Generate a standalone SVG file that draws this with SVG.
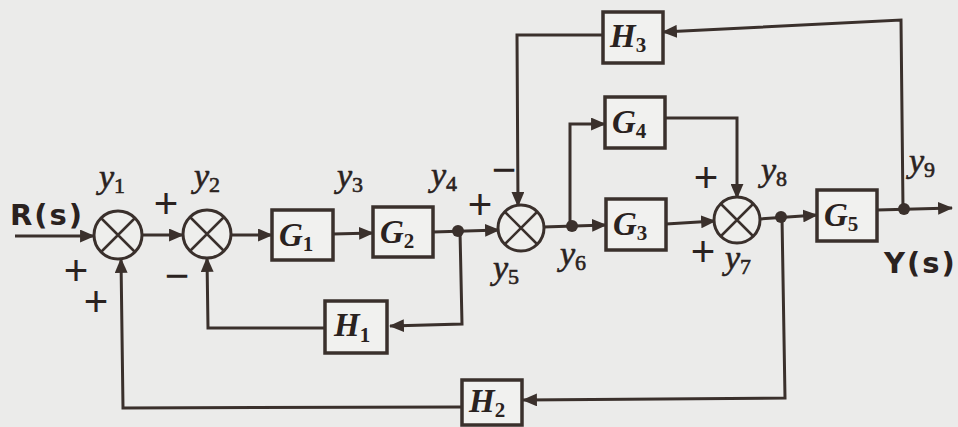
<svg xmlns="http://www.w3.org/2000/svg" width="958" height="427" viewBox="0 0 958 427">
<defs>
<marker id="ah" viewBox="0 0 14 12" refX="13" refY="6" markerWidth="15" markerHeight="13" markerUnits="userSpaceOnUse" orient="auto">
<path d="M0,0 L14,6 L0,12 Z" fill="#3a302c"/>
</marker>
</defs>
<style>
.bg{fill:#ebebea}
.box{fill:#f1f1ef;stroke:#3a302c;stroke-width:3.5}
.sum{fill:#eeeeec;stroke:#3a302c;stroke-width:3}
.x{stroke:#3a302c;stroke-width:2.5}
.w{fill:none;stroke:#3a302c;stroke-width:3;stroke-linejoin:miter}
.a{marker-end:url(#ah)}
.dot{fill:#3a302c}
.bl{font-family:"Liberation Serif",serif;font-style:italic;font-weight:bold;font-size:33px;fill:#2a2220}
.sub{font-style:normal;font-size:21px}
.v{font-family:"Liberation Serif",serif;font-style:italic;font-size:34px;fill:#2a2220;stroke:#2a2220;stroke-width:0.6}
.vs{font-style:normal;font-size:22px}
.s{font-family:"Liberation Sans",sans-serif;font-size:42px;fill:#2a2220;text-anchor:middle}
.io{font-family:"DejaVu Sans",sans-serif;font-weight:bold;font-size:29px;letter-spacing:2px;fill:#2a2220}
</style>
<rect class="bg" x="0" y="0" width="958" height="427"/>

<g id="connectors">
<path class="w a" d="M15,236 L94,236"/>
<path class="w a" d="M141,235 L183,235"/>
<path class="w a" d="M230,235 L272,235"/>
<path class="w a" d="M333,234 L373,233"/>
<path class="w a" d="M433,232 L499,230"/>
<path class="w a" d="M543,227 L606,225"/>
<path class="w a" d="M570,226 L570,124 L605,124"/>
<path class="w a" d="M665,118 L737,118 L737,198"/>
<path class="w a" d="M666,224 L715,221"/>
<path class="w a" d="M759,219 L817,215"/>
<path class="w a" d="M877,210 L952,208"/>
<path class="w a" d="M903,209 L901,20 L663,32"/>
<path class="w a" d="M603,35 L517,35 L518,206"/>
<path class="w a" d="M460,231 L462,324 L390,326"/>
<path class="w a" d="M325,328 L208,328 L207,258"/>
<path class="w a" d="M782,217 L785,398 L523,400"/>
<path class="w a" d="M462,407 L123,408 L121,259"/>
</g>

<g id="dots">
<circle class="dot" cx="458" cy="231" r="6"/>
<circle class="dot" cx="572" cy="226" r="6"/>
<circle class="dot" cx="781" cy="217" r="6"/>
<circle class="dot" cx="904" cy="209" r="6"/>
</g>

<g id="S1"><circle class="sum" cx="118" cy="235" r="24"/><path class="x" d="M101,218 L135,252 M135,218 L101,252"/></g>
<g id="S2"><circle class="sum" cx="207" cy="234" r="24"/><path class="x" d="M190,217 L224,251 M224,217 L190,251"/></g>
<g id="S5"><circle class="sum" cx="521" cy="228" r="23"/><path class="x" d="M505,212 L537,244 M537,212 L505,244"/></g>
<g id="S7"><circle class="sum" cx="737" cy="220" r="23"/><path class="x" d="M721,204 L753,236 M753,204 L721,236"/></g>

<g id="G1"><rect class="box" x="272" y="210" width="61" height="50"/><text class="bl" x="279" y="246">G<tspan class="sub" dy="5">1</tspan></text></g>
<g id="G2"><rect class="box" x="373" y="207" width="60" height="50"/><text class="bl" x="380" y="243">G<tspan class="sub" dy="5">2</tspan></text></g>
<g id="G3"><rect class="box" x="606" y="199" width="60" height="51"/><text class="bl" x="613" y="235">G<tspan class="sub" dy="5">3</tspan></text></g>
<g id="G4"><rect class="box" x="605" y="97" width="60" height="51"/><text class="bl" x="612" y="133">G<tspan class="sub" dy="5">4</tspan></text></g>
<g id="G5"><rect class="box" x="817" y="190" width="60" height="51"/><text class="bl" x="824" y="226">G<tspan class="sub" dy="5">5</tspan></text></g>
<g id="H1"><rect class="box" x="325" y="301" width="62" height="52"/><text class="bl" x="334" y="336">H<tspan class="sub" dy="6">1</tspan></text></g>
<g id="H2"><rect class="box" x="462" y="380" width="60" height="45"/><text class="bl" x="469" y="412">H<tspan class="sub" dy="5">2</tspan></text></g>
<g id="H3"><rect class="box" x="603" y="12" width="60" height="51"/><text class="bl" x="610" y="47">H<tspan class="sub" dy="5">3</tspan></text></g>

<g id="labels">
<text class="io" x="10" y="225">R(s)</text>
<text class="io" x="884" y="273">Y(s)</text>
<text class="v" x="99" y="188">y<tspan class="vs" dy="5">1</tspan></text>
<text class="v" x="194" y="187">y<tspan class="vs" dy="5">2</tspan></text>
<text class="v" x="337" y="187">y<tspan class="vs" dy="5">3</tspan></text>
<text class="v" x="431" y="186">y<tspan class="vs" dy="5">4</tspan></text>
<text class="v" x="493" y="279">y<tspan class="vs" dy="5">5</tspan></text>
<text class="v" x="560" y="265">y<tspan class="vs" dy="5">6</tspan></text>
<text class="v" x="725" y="269">y<tspan class="vs" dy="5">7</tspan></text>
<text class="v" x="761" y="181">y<tspan class="vs" dy="5">8</tspan></text>
<text class="v" x="909" y="172">y<tspan class="vs" dy="5">9</tspan></text>
<text class="s" x="76" y="285">+</text>
<text class="s" x="96" y="316">+</text>
<text class="s" x="166" y="218">+</text>
<text class="s" x="177" y="290">−</text>
<text class="s" x="480" y="219">+</text>
<text class="s" x="504" y="184">−</text>
<text class="s" x="706" y="192">+</text>
<text class="s" x="703" y="266">+</text>
</g>
</svg>
